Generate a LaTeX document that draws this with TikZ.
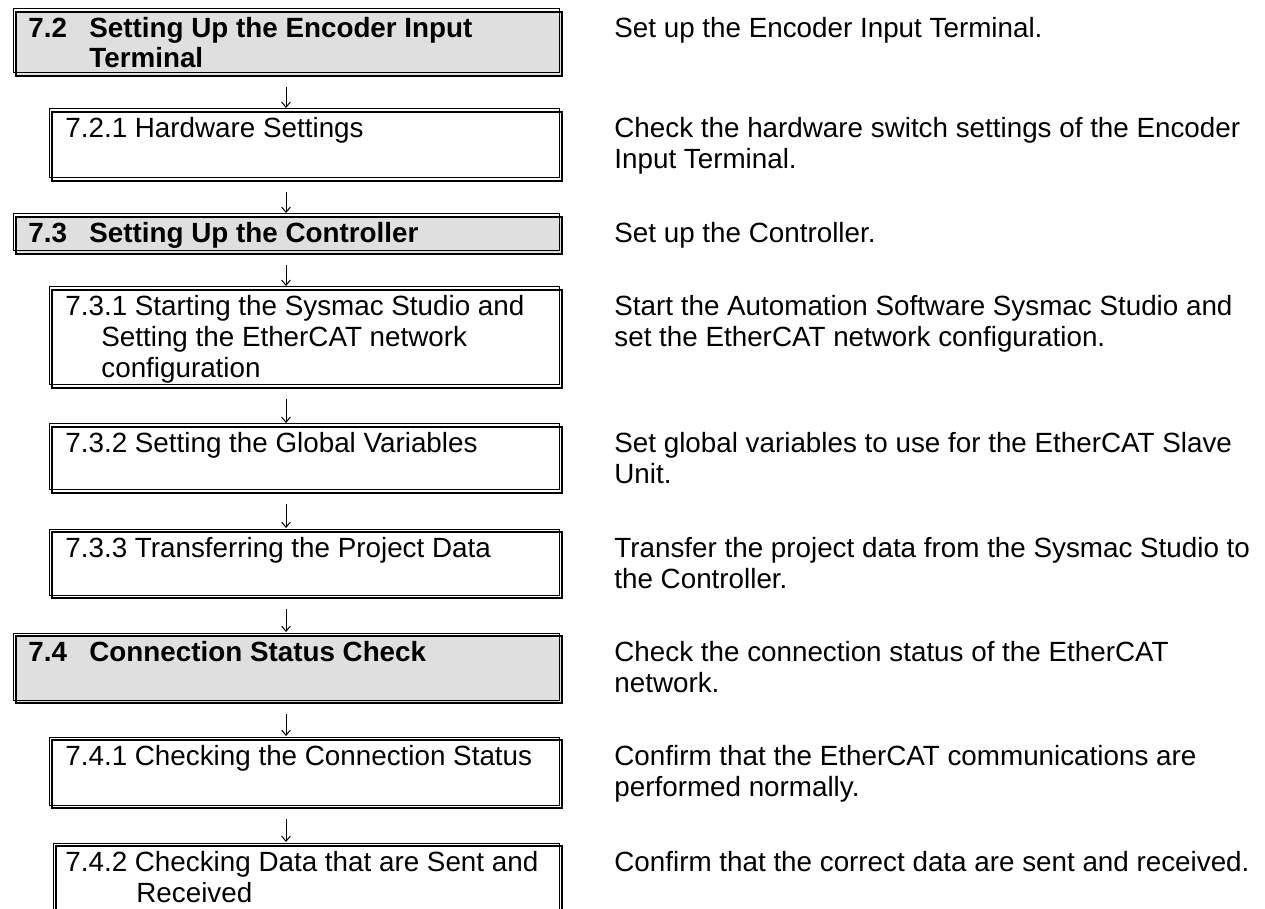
\documentclass[tikz,border=0pt]{standalone}
\usepackage{fontspec}
\setmainfont{Liberation Sans}
\usetikzlibrary{arrows.meta}
\definecolor{headgray}{RGB}{223,223,223}

\begin{document}
\begin{tikzpicture}[x=0.5pt,y=-0.5pt]
    \tikzstyle{every node}+=[inner sep=0pt, font=\fontsize{13.9}{15.6}\selectfont]
    \tikzstyle{frame}=[draw, line width=1.1pt, anchor=north west,
        postaction={draw, line width=0.4pt, transform canvas={shift={(-1.6pt,1.6pt)}}}]
    \tikzstyle{head}=[frame, fill=headgray, minimum width=273pt]
    \tikzstyle{sub}=[frame, fill=white, minimum width=255pt]
    \tikzstyle{txt}=[anchor=base west]
    \tikzstyle{headtxt}=[txt, font=\fontsize{13.9}{15.6}\selectfont\bfseries]
    \tikzstyle{flow}=[line width=0.5pt, shorten <=5pt, shorten >=1.5pt,
        -{Straight Barb[length=2.6pt,width=4.4pt]}]
    \useasboundingbox (0,0) rectangle (1265,909);
    \clip (0,0) rectangle (1265,909);
    % step boxes
    \node[head, minimum height=32pt] (b72) at (15,11) {};
    \node[sub, minimum height=34.5pt] (b721) at (51,111) {};
    \node[head, minimum height=18.5pt] (b73) at (15,216) {};
    \node[sub, minimum height=49pt] (b731) at (51,289) {};
    \node[sub, minimum height=33pt] (b732) at (51,426) {};
    \node[sub, minimum height=33pt] (b733) at (51,531) {};
    \node[head, minimum height=33.5pt] (b74) at (15,635) {};
    \node[sub, minimum height=34pt] (b741) at (51,739) {};
    \node[sub, minimum width=253pt, minimum height=50pt] (b742) at (55,845) {};
    % box texts
    \node[headtxt] (n72) at (28,37.5) {7.2};
    \node[headtxt] (t72) at (89,37.5) {Setting Up the Encoder Input};
    \node[headtxt] (t72b) at (89,67.5) {Terminal};
    \node[txt] (t721) at (65,137.5) {7.2.1 Hardware Settings};
    \node[headtxt] (n73) at (28,242.5) {7.3};
    \node[headtxt] (t73) at (89,242.5) {Setting Up the Controller};
    \node[txt] (t731) at (65,315.5) {7.3.1 Starting the Sysmac Studio and};
    \node[txt] (t731b) at (101,346.5) {Setting the EtherCAT network};
    \node[txt] (t731c) at (101,377.5) {configuration};
    \node[txt] (t732) at (65,452.5) {7.3.2 Setting the Global Variables};
    \node[txt] (t733) at (65,557.5) {7.3.3 Transferring the Project Data};
    \node[headtxt] (n74) at (28,661.5) {7.4};
    \node[headtxt] (t74) at (89,661.5) {Connection Status Check};
    \node[txt] (t741) at (65,765.5) {7.4.1 Checking the Connection Status};
    \node[txt] (t742) at (65,871.5) {7.4.2 Checking Data that are Sent and};
    \node[txt] (t742b) at (136,902.5) {Received};
    % descriptions
    \node[txt] (d72) at (614,37.5) {Set up the Encoder Input Terminal.};
    \node[txt] (d721) at (614,137.5) {Check the hardware switch settings of the Encoder};
    \node[txt] (d721b) at (614,169) {Input Terminal.};
    \node[txt] (d73) at (614,242.5) {Set up the Controller.};
    \node[txt] (d731) at (614,315.5) {Start the Automation Software Sysmac Studio and};
    \node[txt] (d731b) at (614,346.5) {set the EtherCAT network configuration.};
    \node[txt] (d732) at (614,452.5) {Set global variables to use for the EtherCAT Slave};
    \node[txt] (d732b) at (614,483.5) {Unit.};
    \node[txt] (d733) at (614,557.5) {Transfer the project data from the Sysmac Studio to};
    \node[txt] (d733b) at (614,588.5) {the Controller.};
    \node[txt] (d74) at (614,661.5) {Check the connection status of the EtherCAT};
    \node[txt] (d74b) at (614,692.5) {network.};
    \node[txt] (d741) at (614,765.5) {Confirm that the EtherCAT communications are};
    \node[txt] (d741b) at (614,796.5) {performed normally.};
    \node[txt] (d742) at (614,871.5) {Confirm that the correct data are sent and received.};
    % arrows
    \coordinate (ax) at (286,0);
    \draw[flow] (b72.south -| ax) -- (b721.north -| ax);
    \draw[flow] (b721.south -| ax) -- (b73.north -| ax);
    \draw[flow] (b73.south -| ax) -- (b731.north -| ax);
    \draw[flow] (b731.south -| ax) -- (b732.north -| ax);
    \draw[flow] (b732.south -| ax) -- (b733.north -| ax);
    \draw[flow] (b733.south -| ax) -- (b74.north -| ax);
    \draw[flow] (b74.south -| ax) -- (b741.north -| ax);
    \draw[flow] (b741.south -| ax) -- (b742.north -| ax);
\end{tikzpicture}
\end{document}
